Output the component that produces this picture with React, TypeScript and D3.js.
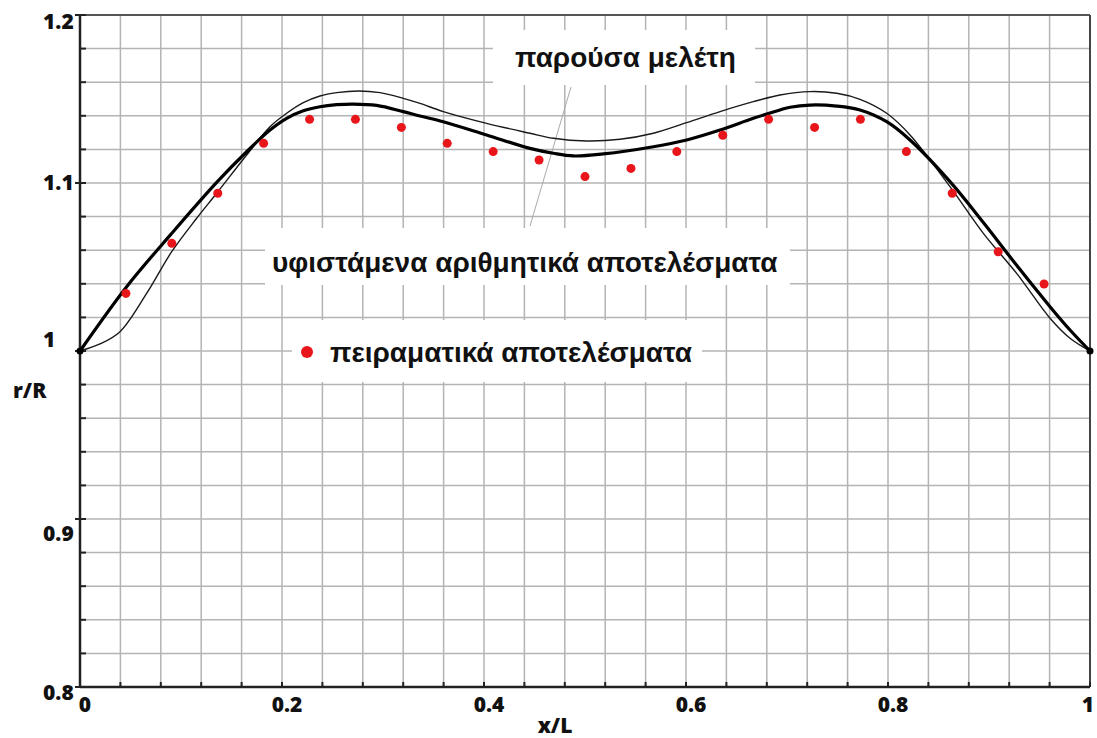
import React, { useRef, useEffect } from 'react';
import * as d3 from 'd3';

// thick curve (υφιστάμενα αριθμητικά αποτελέσματα)
const thickX = [0, 0.0462, 0.0908, 0.136, 0.165, 0.1881, 0.2046, 0.2211, 0.2376, 0.2541, 0.2706, 0.2937, 0.3201, 0.3366, 0.3597, 0.4026, 0.4455, 0.4686, 0.4884, 0.5182, 0.5677, 0.6007, 0.6337, 0.6667, 0.6931, 0.7030, 0.7228, 0.7492, 0.7723, 0.7987, 0.8218, 0.8614, 0.8944, 0.9274, 0.9604, 0.9802, 1];
const thickY = [1.0, 1.0383, 1.07, 1.1008, 1.1186, 1.1315, 1.1385, 1.143, 1.1454, 1.1466, 1.147, 1.1462, 1.1425, 1.1399, 1.1365, 1.1286, 1.1206, 1.1177, 1.1161, 1.1173, 1.1216, 1.1256, 1.1315, 1.1385, 1.1435, 1.1451, 1.1464, 1.1458, 1.1435, 1.1365, 1.1256, 1.1008, 1.0765, 1.051, 1.0264, 1.0125, 1.0];

// thin curve (παρούσα μελέτη)
const thinX = [0, 0.0198, 0.0396, 0.066, 0.0908, 0.1155, 0.1353, 0.165, 0.1881, 0.2046, 0.2211, 0.2376, 0.2541, 0.2756, 0.297, 0.3201, 0.3366, 0.3597, 0.4026, 0.4455, 0.4686, 0.5017, 0.5347, 0.5677, 0.6007, 0.6337, 0.6667, 0.6931, 0.7228, 0.7492, 0.7723, 0.7987, 0.8218, 0.8614, 0.8944, 0.9274, 0.9604, 0.9802, 1];
const thinY = [1.0, 1.0042, 1.0115, 1.0343, 1.0591, 1.079, 1.0939, 1.1167, 1.1335, 1.1415, 1.1478, 1.1518, 1.1538, 1.1548, 1.1538, 1.1504, 1.1474, 1.1425, 1.1355, 1.1296, 1.1266, 1.125, 1.126, 1.1296, 1.1359, 1.1425, 1.1484, 1.1524, 1.1544, 1.1534, 1.1498, 1.1415, 1.1286, 1.0978, 1.07, 1.0462, 1.0195, 1.0076, 1.0];

// experimental points
const expX = [0.0455, 0.0909, 0.1364, 0.1818, 0.2273, 0.2727, 0.3182, 0.3636, 0.4091, 0.4545, 0.5, 0.5455, 0.5909, 0.6364, 0.6818, 0.7273, 0.7727, 0.8182, 0.8636, 0.9091, 0.9545];
const expY = [1.0343, 1.0641, 1.0939, 1.1236, 1.1379, 1.1379, 1.1331, 1.1236, 1.1187, 1.1137, 1.1038, 1.1087, 1.1187, 1.1284, 1.1379, 1.1331, 1.1379, 1.1187, 1.0939, 1.0591, 1.0399];

const xLabels = ['0', '0.2', '0.4', '0.6', '0.8', '1'];
const yLabels = ['0.8', '0.9', '1', '1.1', '1.2'];

const W = 1097;
const H = 738;

const Chart = () => {
  const svgRef = useRef(null);

  useEffect(() => {
    const svg = d3.select(svgRef.current);
    svg.selectAll('*').remove();

    const margin = { top: 15, right: 7, bottom: 51, left: 80 };
    const innerWidth = W - margin.left - margin.right;
    const innerHeight = H - margin.top - margin.bottom;

    const x = d3.scaleLinear().domain([0, 1]).range([0, innerWidth]);
    const y = d3.scaleLinear().domain([0.8, 1.2]).range([innerHeight, 0]);

    const g = svg.append('g').attr('transform', `translate(${margin.left},${margin.top})`);

    // grid
    const xGrid = d3.range(0, 25.5).map(i => i * 0.04);
    const yGrid = d3.range(0, 20.5).map(i => 0.8 + i * 0.02);
    g.append('g').selectAll('line').data(xGrid).enter().append('line')
      .attr('x1', d => x(d)).attr('x2', d => x(d))
      .attr('y1', 0).attr('y2', innerHeight)
      .attr('stroke', '#b4b4b4').attr('stroke-width', 1.5);
    g.append('g').selectAll('line').data(yGrid).enter().append('line')
      .attr('x1', 0).attr('x2', innerWidth)
      .attr('y1', d => y(d)).attr('y2', d => y(d))
      .attr('stroke', '#b4b4b4').attr('stroke-width', 1.5);

    // white boxes behind labels
    const boxes = [
      [493 - margin.left, 30 - margin.top, 262, 55],
      [265 - margin.left, 228 - margin.top, 525, 57],
      [292 - margin.left, 320 - margin.top, 410, 62],
    ];
    g.append('g').selectAll('rect').data(boxes).enter().append('rect')
      .attr('x', d => d[0]).attr('y', d => d[1])
      .attr('width', d => d[2]).attr('height', d => d[3])
      .attr('fill', '#fff');

    // leader line
    g.append('line')
      .attr('x1', 571 - margin.left).attr('y1', 87 - margin.top)
      .attr('x2', 530 - margin.left).attr('y2', 226 - margin.top)
      .attr('stroke', '#aaa').attr('stroke-width', 1);

    // border and axes
    g.append('line').attr('x1', 0).attr('x2', innerWidth).attr('y1', 0).attr('y2', 0)
      .attr('stroke', '#555').attr('stroke-width', 2);
    g.append('line').attr('x1', innerWidth).attr('x2', innerWidth).attr('y1', 0).attr('y2', innerHeight)
      .attr('stroke', '#444').attr('stroke-width', 2);
    g.append('line').attr('x1', 0).attr('x2', 0).attr('y1', 0).attr('y2', innerHeight)
      .attr('stroke', '#222').attr('stroke-width', 2.5);
    g.append('line').attr('x1', 0).attr('x2', innerWidth).attr('y1', innerHeight).attr('y2', innerHeight)
      .attr('stroke', '#222').attr('stroke-width', 2.5);

    // ticks
    g.append('g').selectAll('line').data(xGrid).enter().append('line')
      .attr('x1', d => x(d)).attr('x2', d => x(d))
      .attr('y1', innerHeight).attr('y2', innerHeight - 5)
      .attr('stroke', '#222').attr('stroke-width', 2);
    g.append('g').selectAll('line').data(yGrid).enter().append('line')
      .attr('x1', d => (Math.abs(Math.round(d * 10) - d * 10) < 1e-6 ? -5 : 0))
      .attr('x2', 6)
      .attr('y1', d => y(d)).attr('y2', d => y(d))
      .attr('stroke', '#222').attr('stroke-width', 2);

    // tick labels
    const tickFont = "'Open Sans', 'DejaVu Sans', sans-serif";
    g.append('g').selectAll('text').data(xLabels).enter().append('text')
      .attr('x', d => x(+d) + (+d === 1 ? -2 : 5))
      .attr('y', innerHeight + 25)
      .attr('text-anchor', 'middle')
      .attr('font-family', tickFont).attr('font-weight', 800).attr('font-size', 21)
      .attr('fill', '#111')
      .text(d => d);
    const yDy = { '0.8': 13, '0.9': 22, '1': -4, '1.1': 7, '1.2': 14 };
    g.append('g').selectAll('text').data(yLabels).enter().append('text')
      .attr('x', 43 - margin.left)
      .attr('y', d => y(+d) + yDy[d])
      .attr('font-family', tickFont).attr('font-weight', 800).attr('font-size', 21)
      .attr('fill', '#111')
      .text(d => d);

    // axis titles
    svg.append('text').attr('x', 555).attr('y', 733).attr('text-anchor', 'middle')
      .attr('font-family', tickFont).attr('font-weight', 800).attr('font-size', 21)
      .attr('fill', '#111').text('x/L');
    svg.append('text').attr('x', 13).attr('y', 398)
      .attr('font-family', tickFont).attr('font-weight', 800).attr('font-size', 21)
      .attr('fill', '#111').text('r/R');

    // curves
    const line = d3.line()
      .x(d => x(d[0]))
      .y(d => y(d[1]))
      .curve(d3.curveCatmullRom.alpha(0.5));

    g.append('path')
      .datum(thinX.map((v, i) => [v, thinY[i]]))
      .attr('fill', 'none').attr('stroke', '#1a1a1a').attr('stroke-width', 1.4)
      .attr('d', line);
    g.append('path')
      .datum(thickX.map((v, i) => [v, thickY[i]]))
      .attr('fill', 'none').attr('stroke', '#000').attr('stroke-width', 3.2)
      .attr('d', line);

    // end points
    g.append('g').selectAll('circle').data([0, 1]).enter().append('circle')
      .attr('cx', d => x(d)).attr('cy', y(1)).attr('r', 3.5).attr('fill', '#000');

    // experimental dots
    g.append('g').selectAll('circle').data(expX.map((v, i) => [v, expY[i]])).enter().append('circle')
      .attr('cx', d => x(d[0])).attr('cy', d => y(d[1]))
      .attr('r', 4.5).attr('fill', '#e8161b');

    // labels
    const labelFont = "'Liberation Sans', Arial, sans-serif";
    svg.append('text').attr('x', 515).attr('y', 67)
      .attr('font-family', labelFont).attr('font-weight', 'bold').attr('font-size', 28)
      .attr('fill', '#111').text('παρούσα μελέτη');
    svg.append('text').attr('x', 272).attr('y', 272)
      .attr('font-family', labelFont).attr('font-weight', 'bold').attr('font-size', 28)
      .attr('fill', '#111').text('υφιστάμενα αριθμητικά αποτελέσματα');
    svg.append('circle').attr('cx', 307).attr('cy', 352).attr('r', 6).attr('fill', '#e8161b');
    svg.append('text').attr('x', 330).attr('y', 362)
      .attr('font-family', labelFont).attr('font-weight', 'bold').attr('font-size', 28)
      .attr('fill', '#111').text('πειραματικά αποτελέσματα');
  }, []);

  return <svg ref={svgRef} width={W} height={H} style={{ position: 'absolute', left: 0, top: 0, background: '#fff' }} />;
};

export default function App() {
  return <Chart />;
}
